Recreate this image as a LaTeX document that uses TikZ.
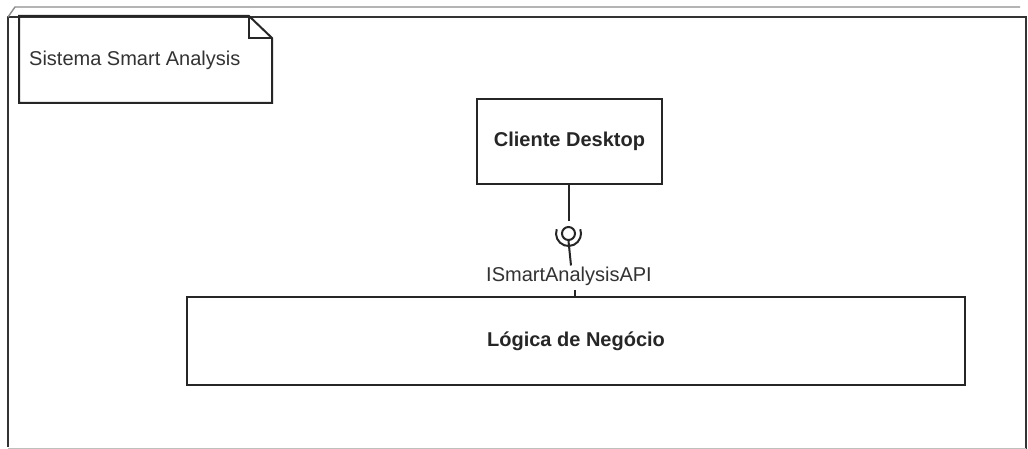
\documentclass[tikz,border=0pt]{standalone}
\usepackage{fontspec}
\setmainfont{Liberation Sans}
\begin{document}
\begin{tikzpicture}[x=1pt,y=-1pt,
  line join=miter,
  edge/.style={draw=black!85, line width=2pt},
  frameline/.style={draw=black!80, line width=2pt},
  comp/.style={draw=black!85, line width=2.2pt, fill=white, inner sep=0pt,
    font=\fontsize{20}{24}\selectfont\bfseries, text=black!85},
  plain/.style={font=\fontsize{20}{24}\selectfont, text=black!80, inner sep=1pt}]
  \useasboundingbox (0,0) rectangle (1028,449);
  \fill[white] (0,0) rectangle (1028,449);

  % outer system node (3D box: front face plus top edge)
  \draw[frameline] (8,447) -- (8,17) -- (1026,17) -- (1026,449);
  \draw[draw=black!45, line width=1.4pt] (8,17) -- (15,7) -- (1020,7);
  \draw[draw=black!25, line width=1pt] (8,448) -- (1026,448);

  % note with folded corner
  \draw[edge] (19,16) -- (249,16) -- (272,38) -- (272,103) -- (19,103) -- cycle;
  \draw[edge] (249,16) -- (249,38) -- (272,38);
  \node[plain, anchor=west] (notetext) at (28,60) {Sistema Smart Analysis};

  % components
  \node[comp, minimum width=185pt, minimum height=85pt] (cliente) at (569.5,141.5) {Cliente Desktop};
  \node[comp, minimum width=778pt, minimum height=88pt] (logica) at (576,341) {Lógica de Negócio};

  % provided / required interface
  \node[draw=black!85, line width=2pt, circle, minimum size=13pt, inner sep=0pt] (ball) at (568.5,233.5) {};
  \draw[edge] ([shift={(ball.center)}] 200:12.5) arc (200:-20:12.5);
  \coordinate (socktop) at ([yshift=12.5pt]ball.center);
  \draw[edge] (socktop |- cliente.south) -- (socktop);
  \node[plain] (api) at (569,276) {ISmartAnalysisAPI};
  \draw[edge] (ball.south) -- ([xshift=2pt]api.north);
  \coordinate (tick) at (575,290);
  \draw[edge] (tick) -- (tick |- logica.north);
\end{tikzpicture}
\end{document}
